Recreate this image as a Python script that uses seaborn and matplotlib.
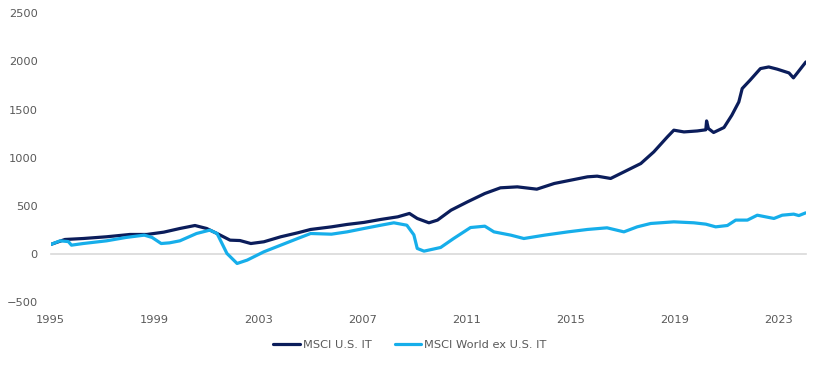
import numpy as np
import pandas as pd
import matplotlib
matplotlib.use("Agg")
import matplotlib.pyplot as plt
import seaborn as sns

# values (index level, decimal years)
us_years = [1995.0, 1995.55, 1996.25, 1997.15, 1998.05, 1998.7, 1999.35, 1999.97, 2000.55,
            2001.0, 2001.4, 2001.9, 2002.28, 2002.7, 2003.2, 2003.85, 2004.5, 2005.0,
            2005.8, 2006.4, 2007.05, 2007.7, 2008.35, 2008.8, 2009.1, 2009.55, 2009.88,
            2010.4, 2011.03, 2011.7, 2012.3, 2012.95, 2013.7, 2014.37, 2015.13, 2015.65,
            2016.02, 2016.54, 2017.05, 2017.7, 2018.2, 2018.72, 2018.97, 2019.36, 2019.87,
            2020.2, 2020.23, 2020.3, 2020.5, 2020.9, 2021.2, 2021.47, 2021.6, 2021.9,
            2022.3, 2022.62, 2022.95, 2023.4, 2023.57, 2023.72, 2024.05]
us_values = [100, 152, 162, 180, 204, 204, 228, 266, 297,
             266, 214, 145, 141, 110, 128, 180, 221, 256,
             283, 308, 329, 360, 387, 422, 370, 325, 353,
             456, 542, 629, 688, 698, 674, 733, 774, 802,
             809, 785, 853, 940, 1061, 1216, 1286, 1268, 1278,
             1290, 1382, 1303, 1262, 1314, 1441, 1579, 1718, 1804,
             1925, 1942, 1919, 1880, 1829, 1880, 1994]

world_years = [1995.0, 1995.36, 1995.68, 1995.8, 1996.25, 1997.15, 1997.9, 1998.6, 1998.9,
               1999.25, 1999.57, 1999.97, 2000.61, 2001.12, 2001.4, 2001.78, 2002.17, 2002.56,
               2003.2, 2003.85, 2004.5, 2005.0, 2005.8, 2006.4, 2007.05, 2007.7, 2008.2,
               2008.7, 2008.97, 2009.1, 2009.36, 2010.0, 2010.5, 2011.15, 2011.7, 2012.05,
               2012.7, 2013.2, 2014.0, 2014.9, 2015.65, 2016.4, 2017.05, 2017.56, 2018.08,
               2018.97, 2019.74, 2020.2, 2020.58, 2021.03, 2021.35, 2021.8, 2022.18, 2022.82,
               2023.14, 2023.58, 2023.78, 2024.04]
world_values = [100, 138, 130, 93, 110, 138, 173, 197, 173,
                110, 117, 138, 214, 249, 214, 7, -97, -62,
                24, 93, 162, 214, 207, 231, 266, 300, 325,
                300, 200, 59, 31, 69, 162, 276, 290, 231,
                197, 162, 197, 231, 256, 273, 231, 283, 318,
                335, 325, 311, 283, 297, 353, 353, 404, 370,
                404, 415, 400, 428]

series_names = ["MSCI U.S. IT", "MSCI World ex U.S. IT"]
year_ticks = [1995, 1999, 2003, 2007, 2011, 2015, 2019, 2023]
value_ticks = [-500, 0, 500, 1000, 1500, 2000, 2500]

dark = "#0b1d5b"
light = "#16aeea"
grey_txt = "#595959"
axis_grey = "#d9d9d9"

df = pd.concat([
    pd.DataFrame({"year": us_years, "value": us_values, "series": series_names[0]}),
    pd.DataFrame({"year": world_years, "value": world_values, "series": series_names[1]}),
])

sns.set_style("white")
plt.rcParams['font.family'] = ['DejaVu Sans']

fig = plt.figure(figsize=(8.2, 3.66), dpi=100)
ax = fig.add_axes([0.0618, 0.174, 0.921, 0.79])
sns.lineplot(data=df, x="year", y="value", hue="series", hue_order=series_names,
             palette=[dark, light], linewidth=2.3, ax=ax, legend=False, zorder=3)

ax.set_xlim(1995, 2024.05)
ax.set_ylim(-500, 2500)
ax.set_yticks(value_ticks)
ax.set_xticks(year_ticks)
ax.set_xlabel("")
ax.set_ylabel("")
for s in ["top", "right", "left"]:
    ax.spines[s].set_visible(False)
# zero axis line with small ticks, labels go at the bottom
ax.spines["bottom"].set_position(("data", 0))
ax.spines["bottom"].set_color(axis_grey)
ax.spines["bottom"].set_linewidth(1.2)
ax.spines["bottom"].set_zorder(1)
ax.tick_params(axis="x", direction="out", length=4, width=1, color=axis_grey, labelbottom=False)
ax.tick_params(axis="y", length=0, pad=9.4, labelsize=8.2, labelcolor=grey_txt)

sec = ax.secondary_xaxis(0.0)
sec.set_xticks(year_ticks)
sec.spines["bottom"].set_visible(False)
sec.tick_params(length=0, pad=9, labelsize=8.2, labelcolor=grey_txt)

handles = [plt.Line2D([], [], color=dark, linewidth=2.3),
           plt.Line2D([], [], color=light, linewidth=2.3)]
leg = fig.legend(handles, series_names, loc="center", bbox_to_anchor=(0.5, 0.0574), ncol=2,
                 frameon=False, fontsize=8.2, handlelength=2.3, handletextpad=0.3,
                 columnspacing=2.0)
for t in leg.get_texts():
    t.set_color(grey_txt)

fig.savefig("out.png", dpi=100)
